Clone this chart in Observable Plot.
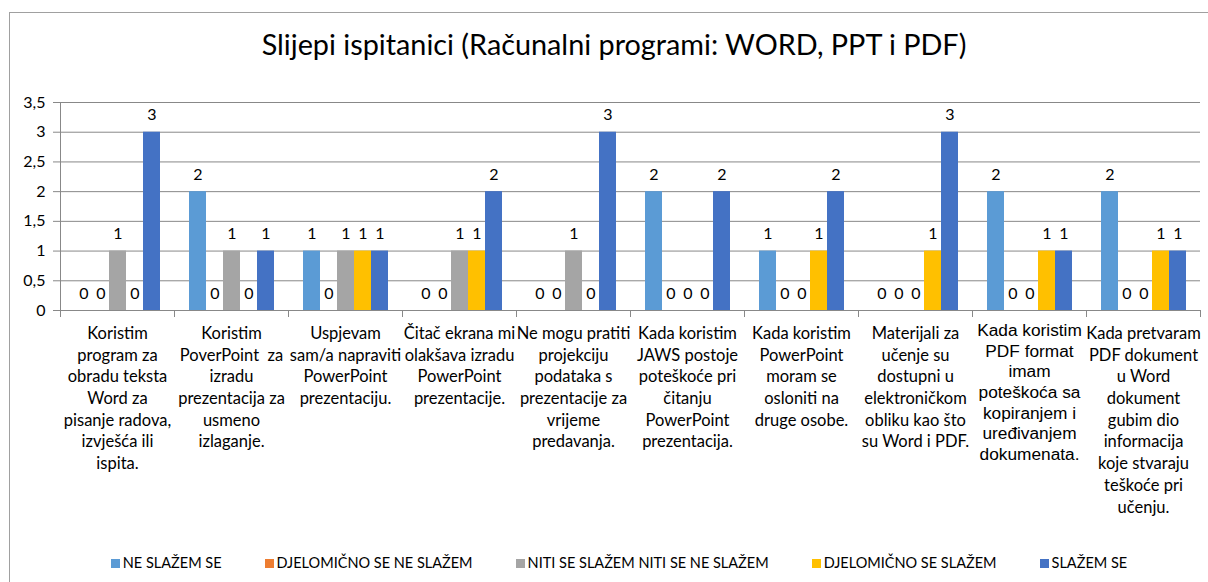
<!DOCTYPE html>
<html><head><meta charset="utf-8">
<script src="https://cdn.jsdelivr.net/npm/d3@7"></script>
<script src="https://cdn.jsdelivr.net/npm/@observablehq/plot@0.6"></script>
<style>
html,body{margin:0;padding:0;background:#fff}
body{width:1208px;height:582px;overflow:hidden;position:relative;font-family:Lato,"Liberation Sans",sans-serif;color:#000}
#border{position:absolute;left:9px;top:12px;width:1400px;height:800px;border:1px solid #a0a0a0;box-sizing:border-box}
#title{position:absolute;left:0;top:27px;width:1208px;text-align:center;font-size:28.8px;line-height:34px;padding-left:20px;box-sizing:border-box}
#chart{position:absolute;left:0;top:80px}
#legend{position:absolute;left:0;top:553px;width:1208px;display:flex;justify-content:center;padding-left:30px;box-sizing:border-box;font-size:14.5px;line-height:20px}
.item{display:flex;align-items:center;margin-right:43px}
.item:last-child{margin-right:0}
.sw{width:9px;height:9px;margin-right:3px}
</style>
</head><body>
<div id="border"></div>
<div id="title">Slijepi ispitanici (Računalni programi: WORD, PPT i PDF)</div>
<div id="chart"></div>
<div id="legend"></div>
<script>
const categories = [
  "Koristim\nprogram za\nobradu teksta\nWord za\npisanje radova,\nizvješća ili\nispita.",
  "Koristim\nPoverPoint  za\nizradu\nprezentacija za\nusmeno\nizlaganje.",
  "Uspjevam\nsam/a napraviti\nPowerPoint\nprezentaciju.",
  "Čitač ekrana mi\nolakšava izradu\nPowerPoint\nprezentacije.",
  "Ne mogu pratiti\nprojekciju\npodataka s\nprezentacije za\nvrijeme\npredavanja.",
  "Kada koristim\nJAWS postoje\npoteškoće pri\nčitanju\nPowerPoint\nprezentacija.",
  "Kada koristim\nPowerPoint\nmoram se\nosloniti na\ndruge osobe.",
  "Materijali za\nučenje su\ndostupni u\nelektroničkom\nobliku kao što\nsu Word i PDF.",
  "Kada koristim\nPDF format\nimam\npoteškoća sa\nkopiranjem i\nuređivanjem\ndokumenata.",
  "Kada pretvaram\nPDF dokument\nu Word\ndokument\ngubim dio\ninformacija\nkoje stvaraju\nteškoće pri\nučenju."
];
const series = ["NE SLAŽEM SE", "DJELOMIČNO SE NE SLAŽEM", "NITI SE SLAŽEM NITI SE NE SLAŽEM", "DJELOMIČNO SE SLAŽEM", "SLAŽEM SE"];
const colors = ["#5B9BD5", "#ED7D31", "#A5A5A5", "#FFC000", "#4472C4"];
const neSlazem      = [0, 2, 1, 0, 0, 2, 1, 0, 2, 2];
const djelomicnoNe  = [0, 0, 0, 0, 0, 0, 0, 0, 0, 0];
const niti          = [1, 1, 1, 1, 1, 0, 0, 0, 0, 0];
const djelomicnoDa  = [0, 0, 1, 1, 0, 0, 1, 1, 1, 1];
const slazem        = [3, 1, 1, 2, 3, 2, 2, 3, 1, 1];
const yTicks = [0, 0.5, 1, 1.5, 2, 2.5, 3, 3.5];

const seriesValues = [neSlazem, djelomicnoNe, niti, djelomicnoDa, slazem];
const rows = [];
categories.forEach((c, i) => series.forEach((s, j) => rows.push({category: c, series: s, value: seriesValues[j][i]})));

const H = 445, MT = 22, MB = 215;
const innerH = H - MT - MB;
const grey = "#888888";
const chart = Plot.plot({
  width: 1208, height: H,
  marginTop: MT, marginBottom: MB, marginLeft: 60, marginRight: 8,
  style: {fontFamily: "Lato, sans-serif", background: "transparent", overflow: "visible"},
  fx: {domain: categories, padding: 0, axis: null},
  x: {domain: series, paddingInner: 0, paddingOuter: 0.8, axis: null},
  y: {domain: [0, 3.5], axis: null},
  color: {domain: series, range: colors},
  marks: [
    Plot.gridY(yTicks, {stroke: grey, strokeOpacity: 1}),
    Plot.axisY(yTicks, {tickFormat: d => String(d).replace(".", ","), tickSize: 7, tickPadding: 8, fontSize: 16, stroke: grey, fill: "#000", label: null}),
    Plot.frame({anchor: "left", stroke: grey, insetBottom: -6, facetAnchor: "left"}),
    Plot.frame({anchor: "left", stroke: grey, insetTop: innerH, insetBottom: -6}),
    Plot.frame({anchor: "right", stroke: grey, insetTop: innerH, insetBottom: -6}),
    Plot.barY(rows, {fx: "category", x: "series", y: "value", fill: "series"}),
    Plot.text(rows, {fx: "category", x: "series", y: "value", text: d => String(d.value), dy: -17, fontSize: 16, fill: "#000"}),
    Plot.text(categories.filter((c, i) => i !== 8), {fx: d => d, text: d => d, frameAnchor: "bottom", lineAnchor: "top", dy: 13, fontSize: 16.5, lineHeight: 21.7 / 16.5, fill: "#000"}),
    Plot.text([categories[8]], {fx: d => d, text: d => d, frameAnchor: "bottom", lineAnchor: "top", dy: 11, fontSize: 17.3, lineHeight: 20.6 / 17.3, fontFamily: "Liberation Sans", fill: "#000"})
  ]
});
document.getElementById("chart").appendChild(chart);

const legend = document.getElementById("legend");
series.forEach((s, j) => {
  const it = document.createElement("div"); it.className = "item";
  const sw = document.createElement("div"); sw.className = "sw"; sw.style.background = colors[j];
  const tx = document.createElement("span"); tx.textContent = s;
  it.appendChild(sw); it.appendChild(tx); legend.appendChild(it);
});
</script>
</body></html>
